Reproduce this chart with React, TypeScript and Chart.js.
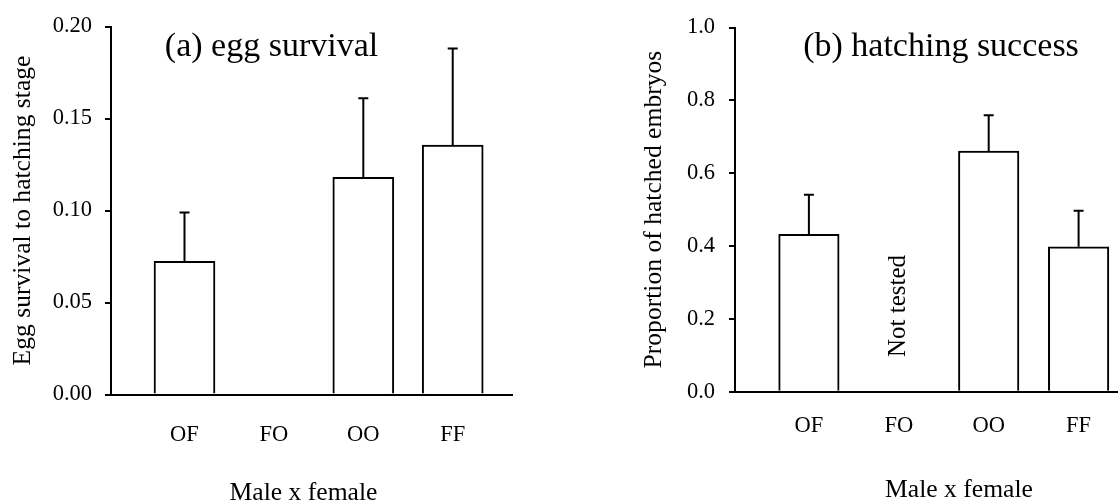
import React, { useEffect, useRef } from 'react';
import { Chart, registerables } from 'chart.js';

Chart.register(...registerables);

const FONT = '"Liberation Serif", "Times New Roman", Times, serif';

// Shared categories (male x female crosses)
const categories = ['OF', 'FO', 'OO', 'FF'];
const xAxisTitle = 'Male x female';
const notTestedText = 'Not tested';

// (a) egg survival to hatching stage
const survivalMean: (number | null)[] = [0.0724, null, 0.118, 0.1355];
const survivalUpper: (number | null)[] = [0.0989, null, 0.161, 0.188];
const survivalTicks = [0, 0.05, 0.1, 0.15, 0.2];

// (b) hatching success
const hatchMean: (number | null)[] = [0.432, null, 0.661, 0.398];
const hatchUpper: (number | null)[] = [0.541, null, 0.759, 0.497];
const hatchTicks = [0, 0.2, 0.4, 0.6, 0.8, 1.0];

// category axis range (in category units)
const X_MIN = -0.822;
const X_MAX = 3.663;

const H = 520;

type PanelCfg = {
  canvasLeft: number;
  canvasWidth: number;
  means: (number | null)[];
  uppers: (number | null)[];
  yTicks: number[];
  decimals: number;
  yTitle: string;
  panelTitle: string;
  plotTop: number;
  plotBottom: number;
  plotLeft: number;
  padRight: number;
  yTitlePad: number;
  yTickPad: number;
  xTickPad: number;
  panelTitleX: number;
  panelTitleBaseline: number;
  xTitleX: number;
  xTitleBaseline: number;
  barThickness: number;
  notTested: boolean;
  notTestedY: number;
};

const panelA: PanelCfg = {
  canvasLeft: 0,
  canvasWidth: 540,
  means: survivalMean,
  uppers: survivalUpper,
  yTicks: survivalTicks,
  decimals: 2,
  yTitle: 'Egg survival to hatching stage',
  panelTitle: '(a) egg survival',
  plotTop: 17.5,
  plotBottom: 394.5,
  plotLeft: 111,
  padRight: 28,
  yTitlePad: 8,
  yTickPad: 13,
  xTickPad: 18.7,
  panelTitleX: 271.5,
  panelTitleBaseline: 55.5,
  xTitleX: 303.5,
  xTitleBaseline: 500,
  barThickness: 61,
  notTested: false,
  notTestedY: 0,
};

const panelB: PanelCfg = {
  canvasLeft: 560,
  canvasWidth: 600,
  means: hatchMean,
  uppers: hatchUpper,
  yTicks: hatchTicks,
  decimals: 1,
  yTitle: 'Proportion of hatched embryos',
  panelTitle: '(b) hatching success',
  plotTop: 25,
  plotBottom: 391.7,
  plotLeft: 175,
  padRight: 21.8,
  yTitlePad: 79,
  yTickPad: 14,
  xTickPad: 12.5,
  panelTitleX: 381,
  panelTitleBaseline: 55.5,
  xTitleX: 399,
  xTitleBaseline: 496.7,
  barThickness: 60.5,
  notTested: true,
  notTestedY: 306,
};

function Panel({ cfg }: { cfg: PanelCfg }) {
  const ref = useRef<HTMLCanvasElement>(null);

  useEffect(() => {
    const canvas = ref.current;
    if (!canvas) return;

    const overlay = {
      id: 'overlay',
      afterDatasetsDraw(chart: any) {
        const ctx = chart.ctx as CanvasRenderingContext2D;
        const xs = chart.scales.x;
        const ys = chart.scales.y;
        ctx.save();
        ctx.strokeStyle = '#000';
        ctx.lineWidth = 2;
        cfg.means.forEach((m, i) => {
          const u = cfg.uppers[i];
          if (m == null || u == null) return;
          const x = xs.getPixelForValue(i);
          const y0 = ys.getPixelForValue(m);
          const y1 = ys.getPixelForValue(u);
          ctx.beginPath();
          ctx.moveTo(x, y0);
          ctx.lineTo(x, y1);
          ctx.moveTo(x - 5, y1);
          ctx.lineTo(x + 5, y1);
          ctx.stroke();
        });

        ctx.fillStyle = '#000';
        ctx.textAlign = 'center';
        ctx.textBaseline = 'alphabetic';
        ctx.font = `34px ${FONT}`;
        ctx.fillText(cfg.panelTitle, cfg.panelTitleX, cfg.panelTitleBaseline);
        ctx.font = `25.6px ${FONT}`;
        ctx.fillText(xAxisTitle, cfg.xTitleX, cfg.xTitleBaseline);

        if (cfg.notTested) {
          cfg.means.forEach((m, i) => {
            if (m != null) return;
            ctx.save();
            ctx.translate(xs.getPixelForValue(i), cfg.notTestedY);
            ctx.rotate(-Math.PI / 2);
            ctx.textAlign = 'center';
            ctx.textBaseline = 'middle';
            ctx.font = `25px ${FONT}`;
            ctx.fillText(notTestedText, 0, 0);
            ctx.restore();
          });
        }
        ctx.restore();
      },
    };

    const chart = new Chart(canvas, {
      type: 'bar',
      data: {
        datasets: [
          {
            data: categories.map((_, i) => ({ x: i, y: cfg.means[i] })) as any,
            backgroundColor: '#ffffff',
            borderColor: '#000000',
            borderWidth: 2,
            barThickness: cfg.barThickness,
            borderSkipped: 'start',
          },
        ],
      },
      options: {
        responsive: false,
        animation: false,
        events: [],
        layout: { padding: { top: cfg.plotTop, right: cfg.padRight, left: 0, bottom: 0 } },
        plugins: { legend: { display: false }, tooltip: { enabled: false } },
        scales: {
          x: {
            type: 'linear',
            min: X_MIN,
            max: X_MAX,
            offset: false,
            afterBuildTicks: (s: any) => {
              s.ticks = categories.map((_, i) => ({ value: i }));
            },
            afterFit: (s: any) => {
              s.height = H - cfg.plotBottom;
            },
            ticks: {
              callback: (v: any) => categories[v] ?? '',
              color: '#000',
              font: { family: FONT, size: 22.5 },
              padding: cfg.xTickPad,
              autoSkip: false,
              maxRotation: 0,
            },
            grid: { display: false, offset: false },
            border: { display: true, color: '#000', width: 2 },
          },
          y: {
            min: 0,
            max: cfg.yTicks[cfg.yTicks.length - 1],
            afterBuildTicks: (s: any) => {
              s.ticks = cfg.yTicks.map((v) => ({ value: v }));
            },
            afterFit: (s: any) => {
              s.width = cfg.plotLeft;
            },
            ticks: {
              callback: (v: any) => Number(v).toFixed(cfg.decimals),
              color: '#000',
              font: { family: FONT, size: 22.5 },
              padding: cfg.yTickPad,
            },
            grid: {
              display: true,
              drawOnChartArea: false,
              drawTicks: true,
              tickLength: 6,
              color: '#000',
              lineWidth: 2,
            },
            border: { display: true, color: '#000', width: 2 },
            title: {
              display: true,
              text: cfg.yTitle,
              color: '#000',
              font: { family: FONT, size: 25.6 },
              padding: { top: cfg.yTitlePad, bottom: 0 },
            },
          },
        },
      } as any,
      plugins: [overlay],
    });

    return () => chart.destroy();
  }, [cfg]);

  return (
    <canvas
      ref={ref}
      width={cfg.canvasWidth}
      height={H}
      style={{ position: 'absolute', left: cfg.canvasLeft, top: 0, width: cfg.canvasWidth, height: H }}
    />
  );
}

export default function App() {
  return (
    <div
      style={{
        position: 'absolute',
        left: 0,
        top: 0,
        width: 1118,
        height: 503,
        overflow: 'hidden',
        background: '#ffffff',
      }}
    >
      <Panel cfg={panelA} />
      <Panel cfg={panelB} />
    </div>
  );
}
